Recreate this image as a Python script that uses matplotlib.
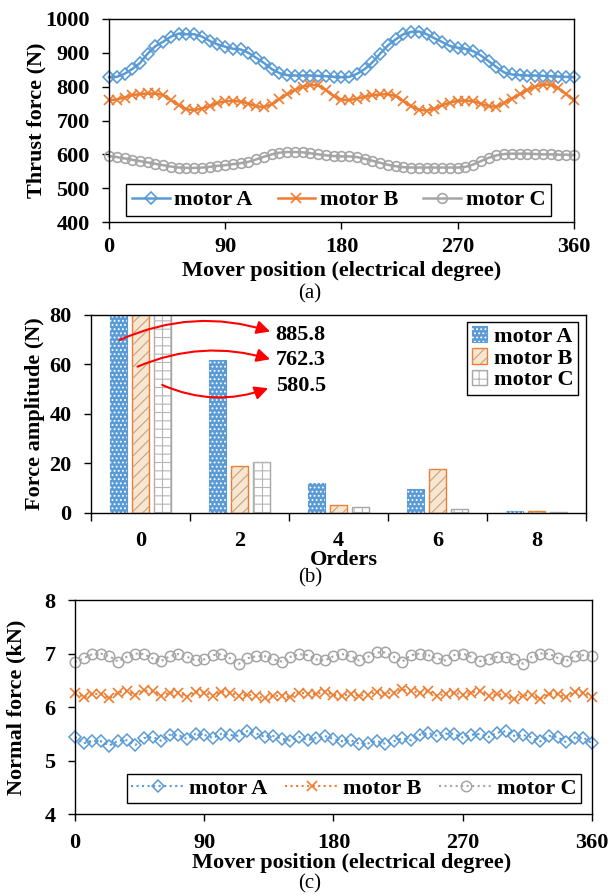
import matplotlib
matplotlib.use("Agg")
import matplotlib.pyplot as plt
import numpy as np

plt.rcParams['font.family'] = ['Liberation Serif', 'DejaVu Serif']
plt.rcParams['font.weight'] = 'bold'
plt.rcParams['font.size'] = 16
plt.rcParams['axes.labelweight'] = 'bold'
plt.rcParams['hatch.linewidth'] = 0.8
plt.rcParams['legend.fancybox'] = False
plt.rcParams['legend.edgecolor'] = 'black'
plt.rcParams['legend.framealpha'] = 1

BLUE = '#5B9BD5'
ORANGE = '#ED7D31'
GRAY = '#A5A5A5'

# (a) thrust force, every 6 electrical degrees
position = np.arange(0, 361, 6)
thrust_a = [828, 829, 838, 852, 870, 898, 920, 933, 948, 957,
            955, 955, 948, 935, 925, 918, 912, 910, 900, 885,
            870, 852, 840, 834, 833, 833, 833, 832, 831, 829,
            828, 829, 838, 852, 872, 898, 922, 940, 955, 962,
            963, 955, 943, 932, 920, 915, 912, 905, 892, 875,
            858, 842, 836, 834, 833, 833, 832, 831, 830, 829,
            828]
thrust_b = [760, 762, 768, 775, 778, 780, 780, 775, 760, 745,
            733, 731, 735, 743, 752, 757, 758, 756, 750, 742,
            740, 748, 763, 778, 790, 800, 805, 804, 790, 772,
            762, 760, 765, 770, 775, 777, 778, 772, 758, 742,
            732, 729, 735, 745, 753, 758, 759, 757, 750, 742,
            741, 752, 765, 778, 790, 800, 806, 806, 795, 778,
            760]
thrust_c = [595, 592, 588, 584, 580, 576, 572, 568, 564, 561,
            560, 560, 561, 563, 566, 568, 571, 574, 578, 585,
            593, 600, 605, 607, 607, 606, 603, 600, 597, 595,
            594, 594, 592, 587, 581, 575, 569, 565, 562, 561,
            561, 561, 561, 561, 561, 561, 563, 570, 580, 590,
            597, 601, 602, 602, 602, 601, 600, 600, 599, 599,
            598]

# (b) harmonic orders of thrust
orders = [0, 2, 4, 6, 8]
amp_a = [885.8, 61.8, 12.3, 9.7, 0.6]
amp_b = [762.3, 19.0, 3.4, 17.8, 0.6]
amp_c = [580.5, 20.7, 2.3, 1.5, 0.4]

# (c) normal force (kN)
normal_a = [5.44, 5.32, 5.37, 5.36, 5.28, 5.37, 5.38, 5.29, 5.42, 5.44,
            5.37, 5.48, 5.48, 5.40, 5.50, 5.48, 5.42, 5.50, 5.48, 5.46,
            5.55, 5.51, 5.44, 5.46, 5.41, 5.37, 5.44, 5.38, 5.43, 5.46,
            5.40, 5.36, 5.38, 5.31, 5.32, 5.37, 5.31, 5.36, 5.42, 5.38,
            5.48, 5.52, 5.46, 5.50, 5.50, 5.43, 5.48, 5.50, 5.44, 5.52,
            5.55, 5.46, 5.48, 5.43, 5.36, 5.46, 5.44, 5.34, 5.43, 5.43,
            5.32]
normal_b = [6.27, 6.18, 6.24, 6.25, 6.16, 6.27, 6.30, 6.23, 6.31, 6.30,
            6.21, 6.27, 6.27, 6.19, 6.29, 6.27, 6.21, 6.29, 6.27, 6.21,
            6.23, 6.21, 6.16, 6.21, 6.21, 6.18, 6.27, 6.25, 6.24, 6.29,
            6.23, 6.21, 6.25, 6.21, 6.23, 6.29, 6.25, 6.27, 6.33, 6.30,
            6.27, 6.30, 6.21, 6.25, 6.27, 6.23, 6.27, 6.30, 6.21, 6.24,
            6.23, 6.15, 6.21, 6.23, 6.15, 6.25, 6.24, 6.18, 6.29, 6.27,
            6.18]
normal_c = [6.84, 6.91, 6.99, 7.00, 6.95, 6.85, 6.94, 7.00, 6.99, 6.91,
            6.86, 6.95, 6.99, 6.94, 6.87, 6.89, 6.97, 6.99, 6.91, 6.81,
            6.91, 6.95, 6.95, 6.89, 6.85, 6.94, 6.99, 6.97, 6.89, 6.87,
            6.95, 6.99, 6.95, 6.87, 6.94, 7.02, 7.02, 6.94, 6.85, 6.97,
            7.00, 6.97, 6.91, 6.87, 6.97, 7.00, 6.94, 6.86, 6.89, 6.94,
            6.94, 6.89, 6.81, 6.94, 7.00, 7.00, 6.92, 6.86, 6.95, 6.97,
            6.95]

labels = ['motor A', 'motor B', 'motor C']

fig = plt.figure(figsize=(6.11, 8.96), dpi=100)


def style_axes(ax, xpad=8.5):
    for s in ax.spines.values():
        s.set_linewidth(1.0)
    ax.tick_params(axis='both', direction='out', length=5, width=1)
    ax.tick_params(axis='x', pad=xpad)
    ax.tick_params(axis='y', pad=9)


# ---- (a)
ax1 = fig.add_axes([0.1784, 0.7522, 0.7610, 0.2266])
ax1.plot(position, thrust_a, color=BLUE, lw=1.8, marker='D', ms=6, mfc='none', mew=1.2, clip_on=False, label=labels[0])
ax1.plot(position, thrust_b, color=ORANGE, lw=1.8, marker='x', ms=7, mew=1.2, clip_on=False, label=labels[1])
ax1.plot(position, thrust_c, color=GRAY, lw=1.8, marker='o', ms=7, mfc='none', mew=1.2, clip_on=False, label=labels[2])
ax1.set_xlim(0, 360)
ax1.set_ylim(400, 1000)
ax1.set_xticks(range(0, 361, 90))
ax1.set_yticks(range(400, 1001, 100))
style_axes(ax1, xpad=6)
ax1.set_xlabel('Mover position (electrical degree)')
ax1.set_ylabel('Thrust force (N)')
ax1.xaxis.set_label_coords(0.5, -0.19)
ax1.yaxis.set_label_coords(-0.134, 0.5)
leg = ax1.legend(loc='lower left', bbox_to_anchor=(0.037, 0.03, 0.913, 0.16), mode='expand', ncol=3,
                 numpoints=1, handlelength=1.7, handletextpad=0.2, borderpad=0.25, borderaxespad=0)
leg.get_frame().set_linewidth(1.0)

# ---- (b)
ax2 = fig.add_axes([0.1489, 0.4275, 0.8101, 0.2210])
x = np.arange(len(orders))
w = 0.17
base_a = ax2.bar(x - 0.22, amp_a, w, color=BLUE, edgecolor=BLUE, lw=0.8)
hat_a = ax2.bar(x - 0.22, amp_a, w, facecolor='none', edgecolor='white', hatch='....', lw=0)
base_b = ax2.bar(x, amp_b, w, color='#F6E6D2', edgecolor=ORANGE, lw=1.0)
hat_b = ax2.bar(x, amp_b, w, facecolor='none', edgecolor='#C9A27A', hatch='///', lw=0)
base_c = ax2.bar(x + 0.22, amp_c, w, color='white', edgecolor=GRAY, lw=1.0)
hat_c = ax2.bar(x + 0.22, amp_c, w, facecolor='none', edgecolor='#B5B5B5', hatch='++', lw=0)
ax2.set_xlim(-0.5, len(orders) - 0.5)
ax2.set_ylim(0, 80)
ax2.set_yticks(range(0, 81, 20))
ax2.set_xticks(np.arange(-0.5, len(orders), 1))
ax2.set_xticklabels([])
ax2.set_xticks(x, minor=True)
ax2.set_xticklabels([str(o) for o in orders], minor=True)
style_axes(ax2)
ax2.tick_params(axis='x', which='major', length=6)
ax2.tick_params(axis='x', which='minor', length=0, pad=13)
ax2.set_xlabel('Orders')
ax2.set_ylabel('Force amplitude (N)')
ax2.xaxis.set_label_coords(0.51, -0.187)
ax2.yaxis.set_label_coords(-0.093, 0.5)
leg2 = ax2.legend([(base_a, hat_a), (base_b, hat_b), (base_c, hat_c)], labels,
                  loc='upper right', bbox_to_anchor=(0.984, 0.965), borderaxespad=0,
                  handlelength=0.7, handleheight=0.7, handletextpad=0.3, labelspacing=0.05, borderpad=0.2)
leg2.get_frame().set_linewidth(1.0)

# red arrows pointing to the DC values
arrow_specs = [((-0.21, 69.9), (1.31, 73.3), -0.19, 71.9, amp_a[0]),
               ((-0.03, 59.1), (1.31, 62.1), -0.18, 61.8, amp_b[0]),
               ((0.22, 51.7), (1.29, 50.4), 0.2, 51.3, amp_c[0])]
for start, end, rad, ty, val in arrow_specs:
    ax2.annotate('', xy=end, xytext=start,
                 arrowprops=dict(arrowstyle='-|>', color='red', lw=1.5, mutation_scale=20,
                                 shrinkA=0, shrinkB=0, connectionstyle='arc3,rad=%s' % rad))
    ax2.text(1.366, ty, '%.1f' % val, va='center', ha='left')

# ---- (c)
ax3 = fig.add_axes([0.1227, 0.0915, 0.8462, 0.2388])
ax3.plot(position, normal_a, color=BLUE, lw=1.5, ls=':', marker='D', ms=6, mfc='none', mew=1.1, clip_on=False, label=labels[0])
ax3.plot(position, normal_b, color=ORANGE, lw=1.5, ls=':', marker='x', ms=7.5, mew=1.2, clip_on=False, label=labels[1])
ax3.plot(position, normal_c, color=GRAY, lw=1.5, ls=':', marker='o', ms=7.5, mfc='none', mew=1.1, clip_on=False, label=labels[2])
ax3.set_xlim(0, 360)
ax3.set_ylim(4, 8)
ax3.set_xticks(range(0, 361, 90))
ax3.set_yticks(range(4, 9))
style_axes(ax3)
ax3.set_xlabel('Mover position (electrical degree)')
ax3.set_ylabel('Normal force (kN)')
ax3.xaxis.set_label_coords(0.535, -0.182)
ax3.yaxis.set_label_coords(-0.093, 0.5)
leg3 = ax3.legend(loc='lower left', bbox_to_anchor=(0.1, 0.051, 0.879, 0.139), mode='expand', ncol=3,
                  numpoints=1, handlelength=2.4, handletextpad=0.2, borderpad=0.2, borderaxespad=0)
leg3.get_frame().set_linewidth(1.0)

# sub-figure captions
for ypos, cap in [(0.672, '(a)'), (0.355, '(b)'), (0.013, '(c)')]:
    fig.text(0.507, ypos, cap, ha='center', va='center', fontweight='normal', fontsize=15)

fig.savefig('out.png', dpi=100)
